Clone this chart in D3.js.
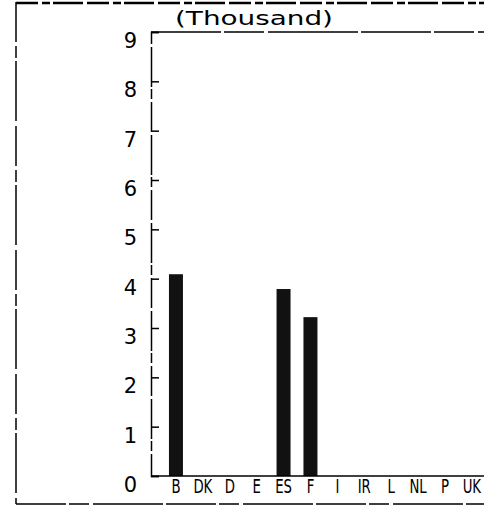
<!DOCTYPE html>
<html>
<head>
<meta charset="utf-8">
<script src="https://cdn.jsdelivr.net/npm/d3@7"></script>
<style>
  html, body { margin: 0; padding: 0; background: #fff; }
  svg { display: block; }
  text { font-family: "DejaVu Sans", sans-serif; fill: #000; }
</style>
</head>
<body>
<svg id="chart" width="484" height="508"></svg>
<script>
const categories = ["B", "DK", "D", "E", "ES", "F", "I", "IR", "L", "NL", "P", "UK"];
const values = [4.09, 0, 0, 0, 3.79, 3.22, 0, 0, 0, 0, 0, 0];
const yTicks = [0, 1, 2, 3, 4, 5, 6, 7, 8, 9];
const unitLabel = "(Thousand)";

const svg = d3.select("#chart");

const step = 26.9;
const x = d3.scaleBand()
  .domain(categories)
  .range([162.5, 162.5 + step * categories.length])
  .paddingInner(0.48)
  .paddingOuter(0.24);

const y = d3.scaleLinear().domain([0, 9]).range([476, 32]);

const axisX = 151;

// outer frame (dashed, plotter-like)
const frame = svg.append("g").attr("stroke", "#000").attr("fill", "none");
frame.append("line").attr("x1", 16).attr("x2", 484).attr("y1", 3).attr("y2", 3)
  .attr("stroke-width", 2.5).attr("stroke-dasharray", "22,4,8,3,30,4");
frame.append("line").attr("x1", 16).attr("x2", 16).attr("y1", 2).attr("y2", 504)
  .attr("stroke-width", 1.5).attr("stroke-dasharray", "40,4,12,3,60,5");
frame.append("line").attr("x1", 16).attr("x2", 484).attr("y1", 504).attr("y2", 504)
  .attr("stroke-width", 1.5).attr("stroke-dasharray", "50,3,20,4,70,3");

// title
svg.append("text")
  .attr("x", 175).attr("y", 25)
  .attr("font-size", 20)
  .attr("textLength", 158)
  .attr("lengthAdjust", "spacingAndGlyphs")
  .text(unitLabel);

// top line of plot area
svg.append("line")
  .attr("x1", axisX).attr("x2", 484).attr("y1", y(9)).attr("y2", y(9))
  .attr("stroke", "#000").attr("stroke-width", 1.5)
  .attr("stroke-dasharray", "70,3,40,4,90,3");

// bars
svg.append("g").selectAll("rect")
  .data(categories.map((c, i) => ({ c, v: values[i] })).filter(d => d.v > 0))
  .join("rect")
  .attr("x", d => x(d.c))
  .attr("width", x.bandwidth())
  .attr("y", d => y(d.v))
  .attr("height", d => y(0) - y(d.v))
  .attr("fill", "#111");

// y axis
const yAxis = d3.axisRight(y).tickValues(yTicks).tickSize(8).tickFormat("");
const gy = svg.append("g").attr("transform", `translate(${axisX},0)`).call(yAxis);
gy.select(".domain").attr("stroke-width", 1.5).attr("stroke-dasharray", "30,3,10,2,40,3");
gy.selectAll(".tick line").attr("stroke-width", 1.5);

// y tick labels (placed to the left, slightly below the tick)
svg.append("g").selectAll("text")
  .data(yTicks)
  .join("text")
  .attr("x", 137)
  .attr("y", d => y(d) + 16)
  .attr("text-anchor", "end")
  .attr("font-size", 21)
  .text(d => d);

// baseline
svg.append("line")
  .attr("x1", axisX).attr("x2", 484).attr("y1", y(0)).attr("y2", y(0))
  .attr("stroke", "#000").attr("stroke-width", 1.5);

// x labels (condensed via horizontal scale around each tick centre)
const xAxis = d3.axisBottom(x).tickSize(0).tickPadding(4);
const gx = svg.append("g").attr("transform", `translate(0,${y(0)})`).call(xAxis);
gx.select(".domain").remove();
gx.selectAll("text")
  .attr("font-family", "\"DejaVu Sans\", sans-serif")
  .attr("font-size", 19)
  .attr("fill", "#000")
  .attr("transform", "scale(0.7,1)");
</script>
</body>
</html>
